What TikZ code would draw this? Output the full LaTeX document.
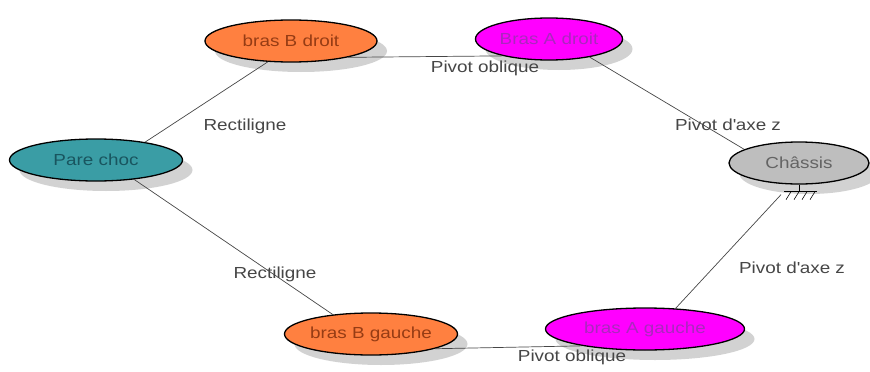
\documentclass[tikz,border=0pt]{standalone}
\usepackage{fontspec}
\setmainfont{Liberation Sans}[FakeStretch=1.18]
\usetikzlibrary{shapes.geometric,shadows}
\definecolor{armorange}{RGB}{255,128,64}
\definecolor{armorangetext}{RGB}{150,60,20}
\definecolor{armmagenta}{RGB}{255,0,255}
\definecolor{armmagentatext}{RGB}{170,40,190}
\definecolor{bumperteal}{RGB}{58,157,165}
\definecolor{bumpertealtext}{RGB}{25,85,95}
\definecolor{framegray}{RGB}{190,190,190}
\definecolor{framegraytext}{RGB}{100,100,100}
\definecolor{linkgray}{RGB}{70,70,70}
\definecolor{labelgray}{RGB}{70,70,70}
\tikzset{
  partbox/.style={
    ellipse,
    draw=black,
    line width=1.3pt,
    inner sep=0pt,
    minimum height=42pt,
    font=\fontsize{16}{19}\selectfont,
    drop shadow={shadow xshift=10pt, shadow yshift=-10pt, fill=black!35, opacity=0.5}
  },
  partarmB/.style={partbox, fill=armorange, text=armorangetext},
  partarmA/.style={partbox, fill=armmagenta, text=armmagentatext},
  partbumper/.style={partbox, fill=bumperteal, text=bumpertealtext},
  partframe/.style={partbox, fill=framegray, text=framegraytext},
  linkline/.style={draw=linkgray, line width=0.7pt},
  linklabel/.style={text=labelgray, font=\fontsize{16}{19}\selectfont, inner sep=0pt}
}

\begin{document}
\begin{tikzpicture}[x=1pt, y=-1pt]
    \useasboundingbox (0,0) rectangle (870,372);

    % parts
    \node[partarmB, minimum width=172pt] (bd) at (291,41) {bras B droit};
    \node[partarmA, minimum width=147pt] (ad) at (549,39) {Bras A droit};
    \node[partbumper, minimum width=173pt] (pc) at (96,160) {Pare choc};
    \node[partframe, minimum width=140pt] (ch) at (799,163) {Châssis};
    \node[partarmB, minimum width=173pt] (bg) at (371,334) {bras B gauche};
    \node[partarmA, minimum width=199pt] (ag) at (645,329) {bras A gauche};

    % ground symbol under the frame
    \coordinate (gnd) at ([yshift=-7pt]ch.south);
    \coordinate (gndl) at ([xshift=-18pt, yshift=-3pt]gnd);
    \draw[black, line width=0.8pt] (ch.south) -- (gnd);
    \draw[black, line width=0.8pt] ([xshift=-15pt]gnd) -- ([xshift=18pt]gnd);
    \foreach \dx in {-8,0,8,16}
      \draw[black, line width=0.6pt] ([xshift=\dx pt]gnd) -- ++(-5,8);

    % links
    \draw[linkline] (bd.-16) -- (ad.-160);
    \draw[linkline] (ad.-24) -- (ch.166);
    \draw[linkline] (pc.20) -- (bd.-138);
    \draw[linkline] (pc.-27) -- (bg.153);
    \draw[linkline] (bg.-13) -- (ag.-165);
    \draw[linkline] (ag.34) -- (gndl);

    % link labels
    \node[linklabel] (l1) at (485,68) {Pivot oblique};
    \node[linklabel] (l2) at (728,125) {Pivot d\textquotesingle axe z};
    \node[linklabel] (l3) at (245,126) {Rectiligne};
    \node[linklabel] (l4) at (275,274) {Rectiligne};
    \node[linklabel] (l5) at (792,268) {Pivot d\textquotesingle axe z};
    \node[linklabel] (l6) at (572,357) {Pivot oblique};
  \end{tikzpicture}
\end{document}
